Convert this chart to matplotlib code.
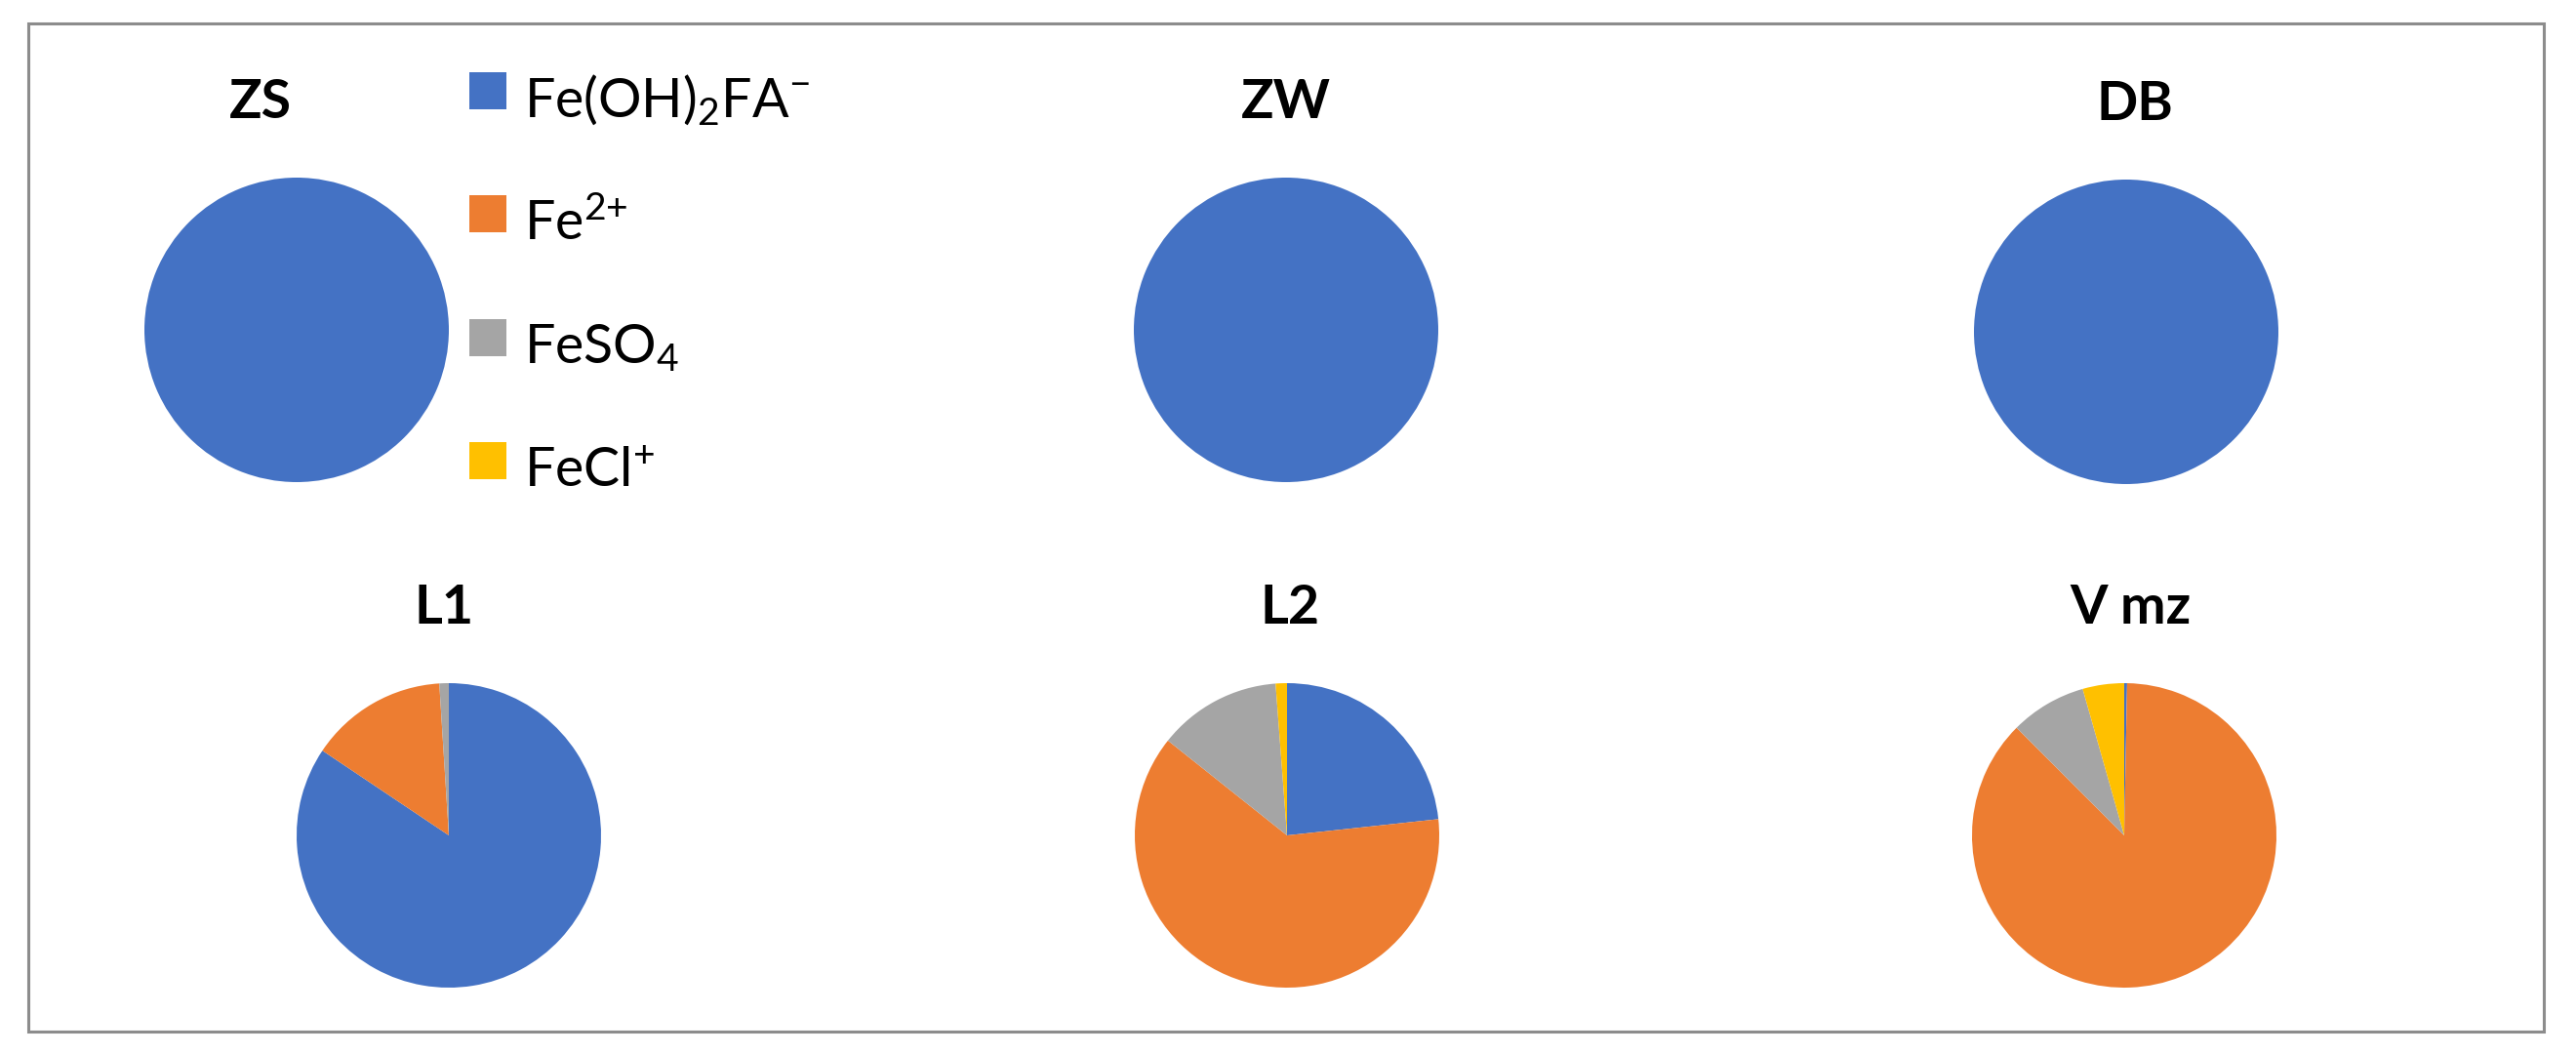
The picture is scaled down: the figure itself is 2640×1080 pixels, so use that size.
import matplotlib
matplotlib.use("Agg")
import matplotlib.pyplot as plt
from matplotlib.lines import Line2D
from matplotlib.patches import Rectangle

plt.rcParams["font.family"] = ["Lato", "DejaVu Sans"]
plt.rcParams["mathtext.default"] = "regular"

# data (% of dissolved Fe per species)
sites = ["ZS", "ZW", "DB", "L1", "L2", "V mz"]
species = [r"Fe(OH)$_2$FA$^{{-}}$", r"Fe$^{2{+}}$", r"FeSO$_4$", r"FeCl$^{{+}}$"]
fe_oh2_fa = [100.0, 100.0, 100.0, 84.4, 23.3, 0.3]
fe_2plus = [0.0, 0.0, 0.0, 14.6, 62.4, 87.2]
fe_so4 = [0.0, 0.0, 0.0, 1.0, 13.1, 8.1]
fe_cl = [0.0, 0.0, 0.0, 0.0, 1.2, 4.4]

colors = ["#4472C4", "#ED7D31", "#A5A5A5", "#FFC000"]

W, H = 2640, 1080
R = 156
# pie centres (px) and title x offset in axes units
centres = [(304, 338), (1318, 338), (2179, 340), (460, 856), (1319, 856), (2177, 856)]
title_x = [0.38, 0.5, 0.53, 0.485, 0.51, 0.52]

fig = plt.figure(figsize=(W / 100, H / 100), dpi=100)

for i, site in enumerate(sites):
    cx, cy = centres[i]
    ax = fig.add_axes([(cx - R) / W, (H - cy - R) / H, 2 * R / W, 2 * R / H])
    vals = [fe_oh2_fa[i], fe_2plus[i], fe_so4[i], fe_cl[i]]
    ax.pie(vals, colors=colors, startangle=90, counterclock=False,
           wedgeprops=dict(linewidth=0))
    ax.set_xlim(-1, 1)
    ax.set_ylim(-1, 1)
    ax.set_title(site, x=title_x[i], pad=44, fontsize=40, fontweight="bold")

handles = [Line2D([], [], marker="s", ls="none", markersize=28,
                  markerfacecolor=c, markeredgewidth=0) for c in colors]
fig.legend(handles, species, loc="upper left", bbox_to_anchor=(478 / W, 1 - 66 / H),
           frameon=False, fontsize=40, handlelength=0.8, handleheight=1.6,
           handletextpad=0.27, labelspacing=0.99, borderpad=0, borderaxespad=0)

fig.add_artist(Rectangle((29 / W, (H - 1057) / H), (2607 - 29) / W, (1057 - 24) / H,
                         transform=fig.transFigure, fill=False,
                         edgecolor="#8c8c8c", linewidth=2.2))

fig.savefig("out.png", dpi=100, facecolor="white")
